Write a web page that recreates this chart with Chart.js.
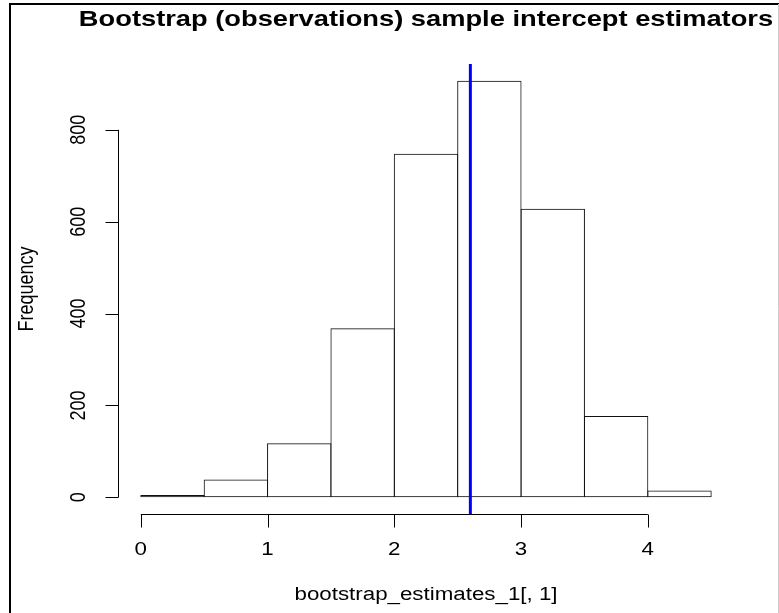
<!DOCTYPE html>
<html>
<head>
<meta charset="utf-8">
<script src="https://cdn.jsdelivr.net/npm/chart.js@4.4.1/dist/chart.umd.min.js"></script>
<style>
  html, body { margin: 0; padding: 0; background: #fff; }
  #wrap { position: relative; width: 779px; height: 613px; }
</style>
</head>
<body>
<div id="wrap"><canvas id="hist" width="779" height="613"></canvas></div>
<script>
// histogram bins (width 0.5) and counts
var binStarts = [0, 0.5, 1, 1.5, 2, 2.5, 3, 3.5, 4];
var binWidth = 0.5;
var frequencies = [5, 39, 118, 368, 748, 907, 628, 177, 15];
var estimateLine = 2.6;
var xTicks = [0, 1, 2, 3, 4];
var yTicks = [0, 200, 400, 600, 800];

var titleText = 'Bootstrap (observations) sample intercept estimators';
var xLabel = 'bootstrap_estimates_1[, 1]';
var yLabel = 'Frequency';

// the screenshot is stretched sideways, text looks ~1.24x wider
var stretch = 1.24;

// R-like 4% padding on both axes
var xLo = binStarts[0], xHi = binStarts[binStarts.length - 1] + binWidth;
var yHi = Math.max.apply(null, frequencies);
var xPad = (xHi - xLo) * 0.04, yPad = yHi * 0.04;

var barData = binStarts.map(function (s, i) {
    return { x: s + binWidth / 2, y: frequencies[i] };
});

function wideText(ctx, text, x, y, angle) {
    ctx.save();
    ctx.translate(x, y);
    ctx.scale(stretch, 1);
    if (angle) ctx.rotate(angle);
    ctx.fillText(text, 0, 0);
    ctx.restore();
}

var rAxes = {
    id: 'rAxes',
    afterDraw: function (chart) {
        var ctx = chart.ctx;
        var xs = chart.scales.x, ys = chart.scales.y;
        var area = chart.chartArea;
        ctx.save();

        // outer frame like the screenshot
        ctx.strokeStyle = '#000';
        ctx.lineWidth = 2;
        ctx.beginPath();
        ctx.moveTo(10, 613);
        ctx.lineTo(10, 4);
        ctx.lineTo(779, 4);
        ctx.stroke();
        ctx.strokeStyle = '#ccc';
        ctx.lineWidth = 1;
        ctx.beginPath();
        ctx.moveTo(778.5, 4);
        ctx.lineTo(778.5, 613);
        ctx.stroke();

        ctx.strokeStyle = '#000';
        ctx.fillStyle = '#000';
        ctx.lineWidth = 1;

        // x axis
        var xAxisY = Math.round(area.bottom) + 0.5;
        ctx.beginPath();
        ctx.moveTo(xs.getPixelForValue(xTicks[0]), xAxisY);
        ctx.lineTo(xs.getPixelForValue(xTicks[xTicks.length - 1]), xAxisY);
        xTicks.forEach(function (t) {
            var px = Math.round(xs.getPixelForValue(t)) + 0.5;
            ctx.moveTo(px, xAxisY);
            ctx.lineTo(px, xAxisY + 13);
        });
        ctx.stroke();
        ctx.font = '18px "Liberation Sans", Arial, sans-serif';
        ctx.textAlign = 'center';
        ctx.textBaseline = 'alphabetic';
        xTicks.forEach(function (t) {
            wideText(ctx, String(t), xs.getPixelForValue(t), 555);
        });
        wideText(ctx, xLabel, (area.left + area.right) / 2, 600);

        // y axis
        var yAxisX = Math.round(area.left) + 0.5;
        ctx.beginPath();
        ctx.moveTo(yAxisX, ys.getPixelForValue(yTicks[0]));
        ctx.lineTo(yAxisX, ys.getPixelForValue(yTicks[yTicks.length - 1]));
        yTicks.forEach(function (t) {
            var py = Math.round(ys.getPixelForValue(t)) + 0.5;
            ctx.moveTo(yAxisX, py);
            ctx.lineTo(yAxisX - 13, py);
        });
        ctx.stroke();
        yTicks.forEach(function (t) {
            wideText(ctx, String(t), 85, ys.getPixelForValue(t), -Math.PI / 2);
        });
        ctx.textBaseline = 'middle';
        wideText(ctx, yLabel, 27, (area.top + area.bottom) / 2, -Math.PI / 2);

        // title
        ctx.font = 'bold 22px "Liberation Sans", Arial, sans-serif';
        ctx.textBaseline = 'alphabetic';
        wideText(ctx, titleText, (area.left + area.right) / 2, 26);

        ctx.restore();
    }
};

new Chart(document.getElementById('hist'), {
    data: {
        datasets: [{
            type: 'line',
            order: 0,
            data: [{ x: estimateLine, y: -yPad }, { x: estimateLine, y: yHi + yPad }],
            borderColor: '#0000ff',
            borderWidth: 3,
            pointRadius: 0,
            fill: false
        }, {
            type: 'bar',
            order: 1,
            data: barData,
            backgroundColor: 'rgba(255,255,255,0)',
            borderColor: '#111',
            borderWidth: 1,
            borderSkipped: false,
            inflateAmount: 0,
            // overlap neighbours by ~1px so shared edges draw as one line
            barPercentage: 1.016,
            categoryPercentage: 1
        }]
    },
    options: {
        responsive: false,
        animation: false,
        layout: { padding: { left: 118, right: 45, top: 64, bottom: 99 } },
        plugins: { legend: { display: false }, tooltip: { enabled: false }, title: { display: false } },
        scales: {
            x: { type: 'linear', offset: false, min: xLo - xPad, max: xHi + xPad, display: false },
            y: { type: 'linear', min: -yPad, max: yHi + yPad, display: false }
        }
    },
    plugins: [rAxes]
});
</script>
</body>
</html>
